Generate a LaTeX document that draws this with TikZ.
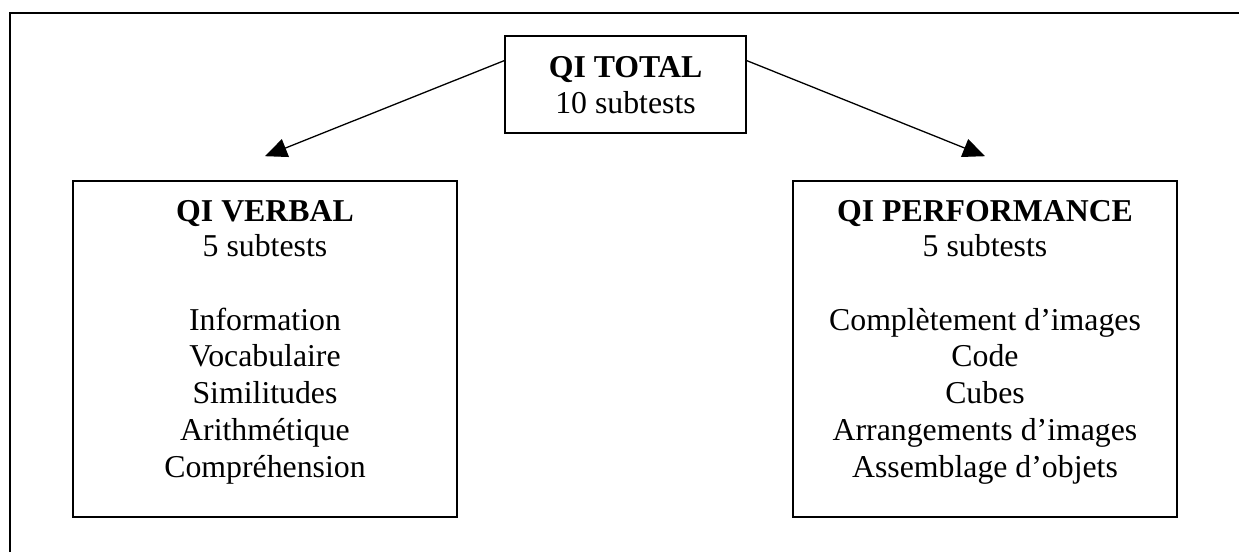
\documentclass[tikz,border=0pt]{standalone}
\usepackage{fontspec}
\setmainfont{Liberation Serif}
\usetikzlibrary{arrows.meta,calc}
\begin{document}
\begin{tikzpicture}[x=1pt,y=-1pt,
  box/.style={draw=black,line width=1.6pt,rectangle,inner sep=0pt},
  txt/.style={anchor=base,inner sep=0pt,font=\fontsize{31.8}{36.5}\selectfont},
  arr/.style={line width=1.3pt,-{Triangle[length=22pt,width=19pt]}},
  frame/.style={line width=2pt}]
\useasboundingbox (0,0) rectangle (1239,552);
% outer frame (open at right and bottom)
\draw[frame] (10,552) -- (10,13) -- (1239,13);
% top box
\node[box,minimum width=241,minimum height=97] (tot) at (625.5,84.5) {};
\node[txt] (tot1) at (625.5,77) {\bfseries QI TOTAL};
\node[txt] (tot2) at (625.5,113) {10 subtests};
% left box
\node[box,minimum width=384,minimum height=336] (verb) at (265,349) {};
\node[txt] (v0) at (265,221) {\bfseries QI VERBAL};
\node[txt] (v1) at (265,256) {5 subtests};
\node[txt] (v2) at (265,330) {Information};
\node[txt] (v3) at (265,366.5) {Vocabulaire};
\node[txt] (v4) at (265,403) {Similitudes};
\node[txt] (v5) at (265,440) {Arithmétique};
\node[txt] (v6) at (265,477.5) {Compréhension};
% right box
\node[box,minimum width=384,minimum height=336] (perf) at (985,349) {};
\node[txt] (p0) at (985,221) {\bfseries QI PERFORMANCE};
\node[txt] (p1) at (985,256) {5 subtests};
\node[txt] (p2) at (985,330) {Complètement d’images};
\node[txt] (p3) at (985,366.5) {Code};
\node[txt] (p4) at (985,403) {Cubes};
\node[txt] (p5) at (985,440) {Arrangements d’images};
\node[txt] (p6) at (985,477.5) {Assemblage d’objets};
% arrows
\coordinate (ls) at ($(tot.north west)!0.258!(tot.south west)$);
\coordinate (rs) at ($(tot.north east)!0.258!(tot.south east)$);
\coordinate (lt) at ($(verb.north)+(0,-24)$);
\coordinate (rt) at ($(perf.north)+(0,-24)$);
\draw[arr] (ls) -- (lt);
\draw[arr] (rs) -- (rt);
\end{tikzpicture}
\end{document}
